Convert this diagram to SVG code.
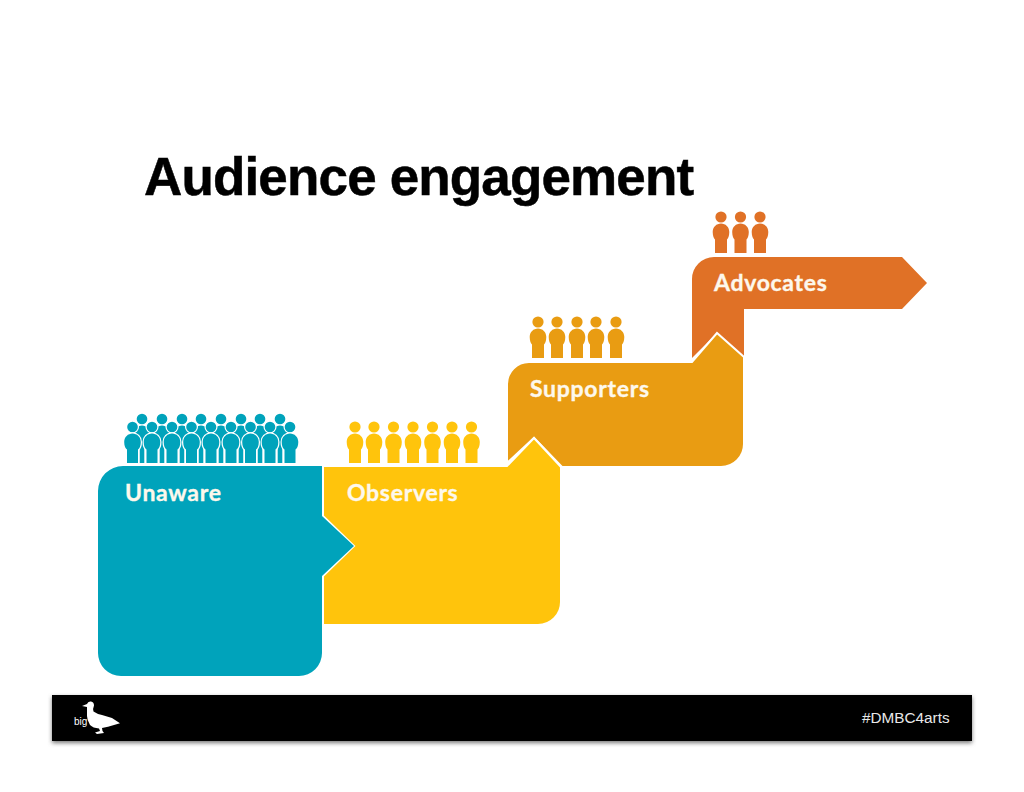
<svg xmlns="http://www.w3.org/2000/svg" xmlns:xlink="http://www.w3.org/1999/xlink" width="1024" height="792" viewBox="0 0 1024 792">
<style>
.lbl{font-family:"Lato","Open Sans",sans-serif;font-weight:700;font-size:23px;letter-spacing:.7px;fill:#fdf8ec;stroke:#fdf8ec;stroke-width:.35}
.step{stroke:#fff;stroke-width:2;stroke-linejoin:miter}
.teal{fill:#00a3bb}.yellow{fill:#ffc40c}.amber{fill:#e99c12}.orange{fill:#e07126}
</style>
<defs>
<g id="p">
<circle cx="0" cy="0" r="5.6"/>
<path d="M-6,36V22.500C-7,21.500-8.300,19-8.300,15C-8.300,10-4.500,6.500,0,6.500C4.500,6.500,8.300,10,8.300,15C8.300,19,7,21.500,6,22.500V36Z"/>
</g>
<g id="q">
<circle cx="0" cy="0" r="5.300"/>
<path d="M-2.300,44V22.500C-7,21.500-8.300,19-8.300,15C-8.300,10-4.500,6.500,0,6.500C4.500,6.500,8.300,10,8.300,15C8.300,19,7,21.500,2.300,22.500V44Z"/>
</g>
<g id="r">
<circle cx="0" cy="0" r="5.300"/>
<path d="M-5.500,36V22.500C-7,21.500-8.300,19-8.300,15C-8.300,10-4.500,6.500,0,6.500C4.500,6.500,8.300,10,8.300,15C8.300,19,7,21.500,5.500,22.500V36Z"/>
</g>
<filter id="sh" x="-2%" y="-20%" width="104%" height="150%"><feGaussianBlur stdDeviation="2"/></filter>
</defs>
<rect width="1024" height="792" fill="#fff"/>
<text id="title" x="144" y="195" font-family="Liberation Sans, Arial, sans-serif" font-weight="700" font-size="53" letter-spacing="-.85" stroke="#000" stroke-width=".5" fill="#000">Audience engagement</text>
<g id="advocates">
<path class="orange" d="M692,358V279A22,22,0,0,1,714,257H902L927,283L902,309H744V358L717,333Z"/>
<g class="orange"><use xlink:href="#p" x="721" y="217"/><use xlink:href="#p" x="740.500" y="217"/><use xlink:href="#p" x="760" y="217"/></g>
<text class="lbl" x="714" y="291">Advocates</text>
</g>
<g id="supporters">
<path class="amber step" d="M507,463V384A22,22,0,0,1,529,362H692L717,333L744,357V444A23,23,0,0,1,721,467H562L534,438Z"/>
<g class="amber"><use xlink:href="#p" x="538" y="322"/><use xlink:href="#p" x="557" y="322"/><use xlink:href="#p" x="577" y="322"/><use xlink:href="#p" x="596" y="322"/><use xlink:href="#p" x="616" y="322"/></g>
<text class="lbl" x="530" y="397">Supporters</text>
</g>
<g id="observers">
<path class="yellow step" d="M323,466H507L534,438L561,467V602A23,23,0,0,1,538,625H323V576L354,546L323,516Z"/>
<g class="yellow"><use xlink:href="#p" x="355" y="427"/><use xlink:href="#p" x="374" y="427"/><use xlink:href="#p" x="393.500" y="427"/><use xlink:href="#p" x="413" y="427"/><use xlink:href="#p" x="432.500" y="427"/><use xlink:href="#p" x="452" y="427"/><use xlink:href="#p" x="471.500" y="427"/></g>
<text class="lbl" x="347" y="501">Observers</text>
</g>
<g id="unaware">
<path class="teal" d="M98,491A25,25,0,0,1,123,466H322V516L354,546L322,576V653A23,23,0,0,1,299,676H121A23,23,0,0,1,98,653Z"/>
<g class="teal">
<use xlink:href="#q" x="142" y="419"/><use xlink:href="#q" x="162" y="419"/><use xlink:href="#q" x="182" y="419"/><use xlink:href="#q" x="201" y="419"/><use xlink:href="#q" x="221" y="419"/><use xlink:href="#q" x="241" y="419"/><use xlink:href="#q" x="260" y="419"/><use xlink:href="#q" x="280" y="419"/>
</g>
<g class="teal" stroke="#fff" stroke-width="2.400" style="paint-order:stroke">
<use xlink:href="#r" x="132.500" y="427"/><use xlink:href="#r" x="152" y="427"/><use xlink:href="#r" x="172" y="427"/><use xlink:href="#r" x="191.500" y="427"/><use xlink:href="#r" x="211" y="427"/><use xlink:href="#r" x="231" y="427"/><use xlink:href="#r" x="250.500" y="427"/><use xlink:href="#r" x="270" y="427"/><use xlink:href="#r" x="290" y="427"/>
</g>
<text class="lbl" x="125" y="501">Unaware</text>
</g>
<g id="footer">
<rect x="52" y="697" width="920" height="46" fill="#777" filter="url(#sh)"/>
<rect x="52" y="695" width="920" height="46" fill="#000"/>
<path fill="#fff" d="M82,706L87,704Q88,701,91,701.500Q94,702,94,705.500Q92.500,709,93.500,711.500Q97,714,102,715L112,718L120,723.300L108,726.700L102,728L102.500,731L104,733L97,734L95,732.500L100,731L99,728.500Q93,728,90,725Q87,720,87,716Q87,712,87,707Z"/>
<text x="74" y="725" font-family="Liberation Sans, Arial, sans-serif" font-size="10" fill="#fff">big</text>
<text x="862" y="722.500" font-family="Liberation Sans, Arial, sans-serif" font-size="15.300" fill="#e8e8e8">#DMBC4arts</text>
</g>
</svg>
